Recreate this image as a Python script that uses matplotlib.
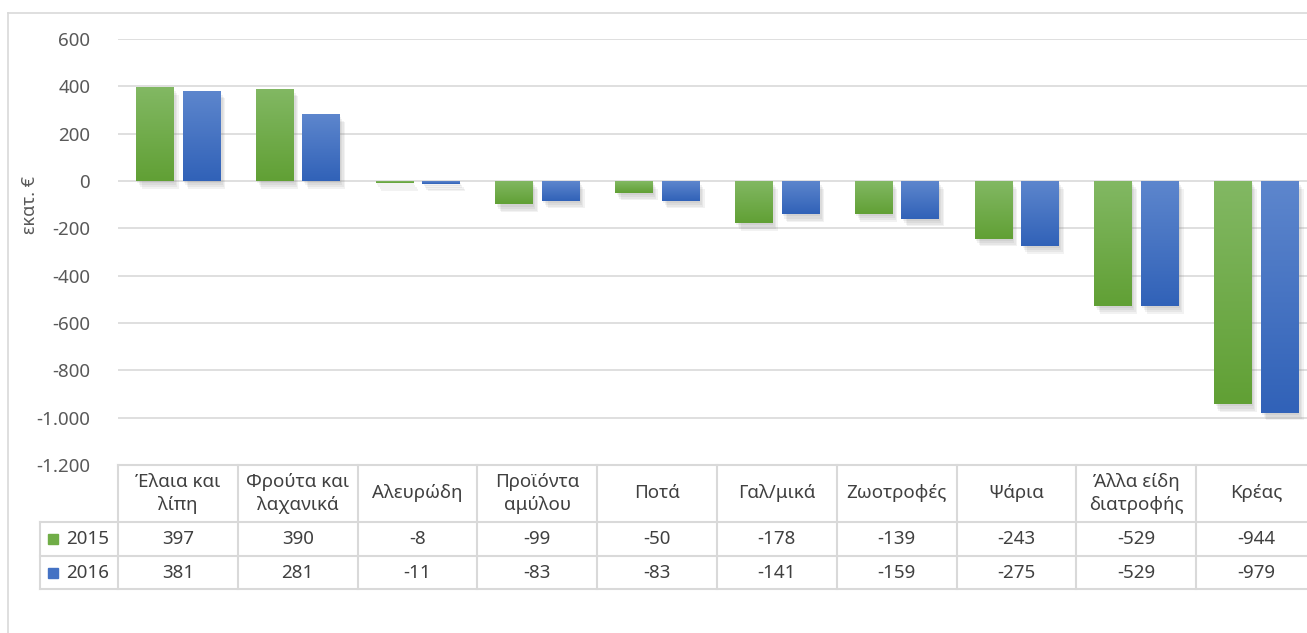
import numpy as np
import matplotlib
matplotlib.use("Agg")
import matplotlib.pyplot as plt
import matplotlib.patheffects as pe
from matplotlib.patches import Rectangle
from matplotlib.lines import Line2D
from matplotlib.colors import LinearSegmentedColormap
from matplotlib.ticker import FuncFormatter

plt.rcParams['font.family'] = ['Noto Sans', 'DejaVu Sans']

categories = ["Έλαια και\nλίπη", "Φρούτα και\nλαχανικά", "Αλευρώδη", "Προϊόντα\nαμύλου",
              "Ποτά", "Γαλ/μικά", "Ζωοτροφές", "Ψάρια", "Άλλα είδη\nδιατροφής", "Κρέας"]
series_names = ["2015", "2016"]
values_2015 = [397, 390, -8, -99, -50, -178, -139, -243, -529, -944]
values_2016 = [381, 281, -11, -83, -83, -141, -159, -275, -529, -979]
yticks = [600, 400, 200, 0, -200, -400, -600, -800, -1000, -1200]

W, H = 1307, 633
fig = plt.figure(figsize=(W / 100, H / 100), dpi=100)
fig.patch.set_facecolor("white")

# outer chart border
fig.add_artist(Line2D([8 / W, 8 / W], [0, 1 - 13 / H], color="#d9d9d9", lw=1.2))
fig.add_artist(Line2D([8 / W, 1], [1 - 13 / H, 1 - 13 / H], color="#d9d9d9", lw=1.2))

left, right, top, bottom = 118, 1316, 39, 465
ax = fig.add_axes([left / W, 1 - bottom / H, (right - left) / W, (bottom - top) / H])

x = np.arange(len(categories))
bw, off = 0.31, 0.195
cmaps = [LinearSegmentedColormap.from_list("g", ["#61a035", "#82b863"]),
         LinearSegmentedColormap.from_list("b", ["#3162b8", "#5d86cd"])]
base = ["#70ad47", "#4472c4"]
grad = np.linspace(0, 1, 64).reshape(-1, 1)
shadow = [pe.SimplePatchShadow(offset=o, shadow_rgbFace="#808080", alpha=0.10)
          for o in [(1, -1.5), (2, -3), (3, -4.5), (4, -5.5)]]

for vals, sgn, cm, col in zip([values_2015, values_2016], [-1, 1], cmaps, base):
    bars = ax.bar(x + sgn * off, vals, bw, color=col, zorder=2,
                  path_effects=shadow + [pe.Normal()])
    for b in bars:
        x0, y0 = b.get_x(), b.get_y()
        x1, y1 = x0 + b.get_width(), y0 + b.get_height()
        lo, hi = min(y0, y1), max(y0, y1)
        im = ax.imshow(grad, extent=[x0, x1, lo, hi], origin="lower", cmap=cm,
                       aspect="auto", zorder=3, interpolation="bilinear")
        im.set_clip_path(b)

ax.set_xlim(-0.5, len(categories) - 0.5)
ax.set_ylim(-1200, 600)
ax.set_yticks(yticks)
ax.yaxis.set_major_formatter(FuncFormatter(lambda v, p: f"{int(v):,}".replace(",", ".")))
ax.tick_params(axis="y", length=0, pad=20, labelsize=13.5, labelcolor="#595959")
ax.set_xticks([])
ax.grid(axis="y", color="#d9d9d9", lw=1.2, zorder=0)
for s in ax.spines.values():
    s.set_visible(False)
ax.set_facecolor("none")

fig.text(30 / W, 1 - 205 / H, "εκατ. €", rotation=90, ha="center", va="center",
         fontsize=13, color="#595959")

# data table under the axis
tr = ax.get_xaxis_transform()
ph = bottom - top
y_rows = [0, -(522 - bottom) / ph, -(556 - bottom) / ph, -(589 - bottom) / ph]
xl = -0.5 - (left - 40) / ((right - left) / len(categories))
lc = "#d9d9d9"
for yy in y_rows:
    x_start = -0.5 if yy == 0 else xl
    ax.add_line(Line2D([x_start, len(categories) - 0.5], [yy, yy], transform=tr, color=lc,
                       lw=1.5, clip_on=False))
for i in range(len(categories) + 1):
    ax.add_line(Line2D([i - 0.5, i - 0.5], [y_rows[0], y_rows[3]], transform=tr, color=lc,
                       lw=1.5, clip_on=False))
ax.add_line(Line2D([xl, xl], [y_rows[1], y_rows[3]], transform=tr, color=lc, lw=1.5, clip_on=False))

for i, c in enumerate(categories):
    ax.text(i, (y_rows[0] + y_rows[1]) / 2, c, transform=tr, ha="center", va="center",
            fontsize=13.5, color="#404040", linespacing=1.3, clip_on=False)
for r, vals in enumerate([values_2015, values_2016]):
    ym = (y_rows[r + 1] + y_rows[r + 2]) / 2
    for i, v in enumerate(vals):
        ax.text(i, ym, f"{v}", transform=tr, ha="center", va="center",
                fontsize=13.5, color="#404040", clip_on=False)
    ypx = [539, 573][r]
    fig.add_artist(Rectangle((48 / W, 1 - ypx / H - 5 / H), 10 / W, 10 / H,
                             transform=fig.transFigure, color=base[r]))
    ax.text(xl + 0.22, ym, series_names[r], transform=tr, ha="left", va="center",
            fontsize=13.5, color="#404040", clip_on=False)

fig.savefig("out.png", dpi=100)
